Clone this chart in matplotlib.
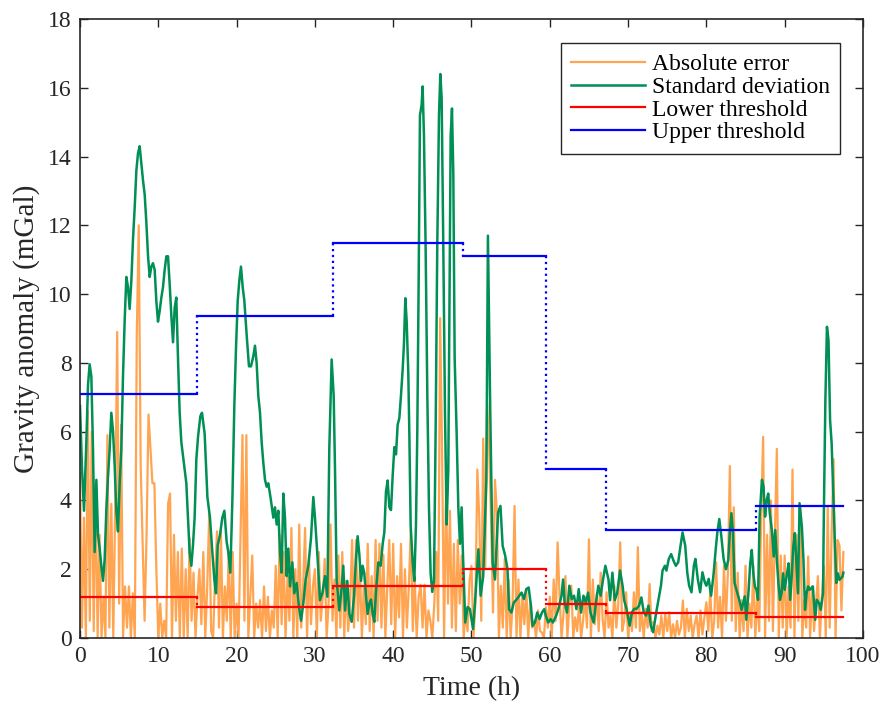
import matplotlib.pyplot as plt
import numpy as np

plt.rcParams['font.family'] = ['Liberation Serif', 'DejaVu Serif']

#---THRESHOLDS (piecewise constant)---#
seg_edges = [0, 15.0, 32.35, 48.9, 59.5, 67.2, 86.3, 97.5]
upper_thr = [7.1, 9.35, 11.5, 11.1, 4.9, 3.15, 3.85]
lower_thr = [1.2, 0.9, 1.5, 2.0, 1.0, 0.72, 0.6]

#---ABSOLUTE ERROR, sampled every 0.25 h from 0 to 97.5 h---#
abs_err = [
    4.8, 0.3, 3.5, 0.0,  6.6, 0.5, 6.0, 0.2,  4.5, 0.0, 3.0, 0.0,  1.2, 0.0, 5.9, 0.3,
    3.9, 0.0, 3.9, 8.9,  1.0, 6.2, 0.0, 1.5,  0.3, 1.5, 0.0, 1.3,  0.0, 8.8, 12.0, 5.0,
    2.8, 0.5, 3.0, 6.5,  5.5, 4.5, 4.5, 2.0,  0.0, 1.0, 0.0, 0.5,  0.0, 3.9, 4.2, 0.0,
    3.0, 0.5, 2.5, 0.0,  2.6, 0.0, 2.0, 0.0,  2.9, 0.5, 1.9, 0.0,  1.2, 2.0, 0.4, 2.5,
    0.0, 1.5, 3.6, 0.2,  0.0, 1.8, 3.1, 0.3,  3.1, 0.0, 1.5, 0.5,  2.5, 0.0, 2.5, 0.0,
    1.0, 0.0, 3.0, 5.9,  0.5, 5.9, 0.0, 1.2,  2.4, 0.0, 1.0, 0.3,  1.1, 0.0, 1.5, 0.2,
    1.2, 0.0, 0.8, 0.3,  2.1, 0.0, 3.0, 0.4,  2.5, 0.0, 1.8, 0.5,  3.2, 0.0, 2.0, 0.0,
    3.3, 0.3, 1.5, 3.2,  0.0, 2.3, 0.4, 1.5,  2.0, 0.0, 2.5, 0.5,  1.2, 2.3, 0.0, 1.0,
    3.3, 0.5, 1.7, 0.0,  2.4, 0.3, 2.5, 0.0,  1.66, 0.2, 1.0, 2.85,  0.3, 2.85, 0.5, 2.1,
    0.0, 1.5, 0.4, 2.74,  0.2, 1.8, 0.0, 2.85,  0.5, 2.74, 0.3, 2.42,  0.0, 1.5, 2.85, 0.4,
    2.74, 0.0, 1.8, 0.6,  2.74, 0.0, 2.0, 0.3,  1.5, 3.17, 0.2, 1.77,  0.0, 1.2, 1.55, 0.3,
    1.55, 0.0, 0.8, 0.5,  0.0, 1.0, 2.5, 0.5,  9.3, 5.34, 0.0, 4.4,  1.0, 3.7, 0.3, 2.74,
    0.2, 2.85, 1.0, 2.4,  0.0, 0.74, 0.2, 1.66,  2.1, 0.0, 1.0, 4.9,  3.45, 0.5, 5.8, 2.0,
    6.84, 5.6, 3.45, 0.74,  4.6, 3.65, 0.0, 1.52,  0.3, 2.3, 0.0, 1.7,  0.0, 1.0, 3.84, 0.0,
    1.7, 0.0, 1.2, 0.4,  1.42, 0.0, 1.03, 0.3,  0.5, 0.0, 0.8, 0.2,  0.16, 0.0, 0.9, 0.3,
    1.2, 0.0, 1.7, 0.5,  2.78, 1.23, 0.0, 0.7,  1.8, 0.0, 1.0, 1.52,  0.0, 0.6, 0.2, 1.03,
    0.0, 0.5, 1.2, 0.3,  2.87, 0.0, 1.7, 0.4,  1.3, 0.2, 1.9, 0.55,  0.0, 1.33, 0.3, 0.65,
    0.0, 1.52, 0.3, 1.0,  2.78, 0.2, 0.5, 1.33,  0.0, 0.75, 0.2, 1.33,  0.3, 2.64, 0.2, 0.75,
    0.0, 0.85, 0.3, 1.57,  0.2, 0.46, 0.0, 0.36,  0.1, 0.65, 0.0, 0.7,  0.2, 0.75, 0.0, 0.4,
    0.0, 0.5, 0.1, 0.3,  1.09, 0.0, 0.85, 0.2,  0.65, 0.0, 0.4, 0.65,  0.0, 0.8, 0.1, 0.6,
    1.04, 0.2, 1.38, 0.0,  0.5, 2.2, 0.3, 1.2,  0.0, 2.1, 0.5, 1.9,  5.0, 0.5, 3.8, 0.2,
    1.9, 0.0, 1.1, 0.2,  2.1, 0.0, 1.0, 0.3,  2.1, 0.0, 1.2, 0.2,  3.6, 5.85, 0.0, 3.0,
    0.5, 4.0, 0.2, 3.0,  5.5, 0.0, 2.4, 0.3,  2.4, 0.0, 1.5, 0.3,  4.9, 0.0, 3.0, 0.5,
    3.8, 0.0, 1.1, 0.3,  2.37, 0.0, 1.5, 0.2,  1.0, 1.8, 0.0, 1.2,  2.1, 0.0, 3.8, 0.3,
    3.05, 5.2, 0.0, 2.85,  2.7, 0.8, 2.5,
]
err_t = np.linspace(0, 97.5, len(abs_err))

#---STANDARD DEVIATION---#
std_t = [
    0.0, 0.26, 0.51, 0.81, 1.02, 1.23, 1.45, 1.66, 1.87, 2.09, 2.3, 2.51, 2.72, 2.94,
    3.15, 3.36, 3.58, 3.79, 4.0, 4.22, 4.43, 4.64, 4.85, 5.07, 5.28, 5.49, 5.71, 5.92,
    6.13, 6.34, 6.56, 6.77, 6.98, 7.2, 7.41, 7.62, 7.83, 8.05, 8.26, 8.47, 8.69, 8.9,
    9.11, 9.32, 9.54, 9.75, 9.96, 10.17, 10.39, 10.6, 10.81, 11.03, 11.24, 11.45, 11.66,
    11.88, 12.09, 12.3, 12.52, 12.73, 12.94, 13.15, 13.37, 13.58, 13.79, 14.0, 14.22,
    14.43, 14.64, 14.86, 15.07, 15.37, 15.58, 15.92, 16.27,
    16.6, 16.9, 17.16, 17.37, 17.59, 17.88, 18.18, 18.44, 18.73, 18.94, 19.2, 19.46,
    19.71, 19.92, 20.14, 20.35, 20.56, 20.78, 20.99, 21.29, 21.58, 21.84, 22.14, 22.35,
    22.56, 22.77, 22.99, 23.2, 23.41, 23.63, 23.84, 24.05, 24.39, 24.69, 24.9, 25.12,
    25.33, 25.54, 25.75, 25.97, 26.18, 26.39, 26.61, 26.82, 27.12, 27.37, 27.67, 27.97,
    28.23, 28.52, 28.82, 29.16, 29.5, 29.8, 30.01, 30.35, 30.65, 30.95, 31.29, 31.59,
    31.84, 32.14, 32.4,
    32.57, 32.78, 33.12, 33.42, 33.63, 33.85, 34.14, 34.4, 34.7, 35.0, 35.25, 35.46,
    35.68, 35.89, 36.1, 36.31, 36.53, 36.74, 36.95, 37.17, 37.38, 37.59, 37.8, 38.1,
    38.4, 38.66, 38.87, 39.08, 39.29, 39.51, 39.72, 39.93, 40.15, 40.36, 40.57, 40.79,
    41.0, 41.21, 41.38, 41.55, 41.72, 41.93, 42.06, 42.23, 42.49, 42.7, 42.91, 43.08,
    43.25, 43.42, 43.63, 43.76, 43.93, 44.14, 44.36, 44.57, 44.78, 44.99, 45.21, 45.42,
    45.63, 45.85, 46.02, 46.19, 46.4, 46.62, 46.83, 47.04, 47.17, 47.34, 47.51, 47.68,
    47.85, 48.1, 48.32, 48.53, 48.74, 48.87,
    49.2, 49.5, 49.8, 50.2, 50.5, 50.88, 51.17, 51.5, 51.9, 52.1, 52.4, 52.7, 53.0,
    53.4, 53.7, 53.98, 54.3, 54.6, 54.8, 55.1, 55.4, 55.8, 56.1, 56.4, 56.7, 57.0,
    57.3, 57.6, 57.8, 58.1, 58.4, 58.7, 59.0, 59.3, 59.5, 59.8, 60.1, 60.4, 60.8,
    61.1, 61.3, 61.5, 61.7, 61.9, 62.2, 62.5, 62.8, 63.1, 63.4, 63.7, 64.0, 64.3,
    64.6, 64.9, 65.2, 65.6, 65.9, 66.2, 66.5, 66.8, 67.1,
    67.5, 67.7, 68.0, 68.3, 68.6, 68.97, 69.3, 69.5, 69.8, 70.2, 70.5, 70.8, 71.1,
    71.4, 71.7, 72.0, 72.3, 72.6, 72.9, 73.2, 73.6, 73.9, 74.2, 74.4, 74.7, 74.9,
    75.2, 75.5, 75.8, 76.1, 76.4, 76.7, 76.96, 77.3, 77.56, 77.8, 78.1, 78.4, 78.6,
    78.9, 79.2, 79.5, 79.8, 80.0, 80.3, 80.6, 80.9, 81.2, 81.4, 81.65, 81.9, 82.2, 82.5,
    82.8, 82.99, 83.2, 83.4, 83.6, 83.96, 84.2, 84.5, 84.7, 84.9, 85.1, 85.4, 85.6,
    85.8, 86.0, 86.2, 86.4, 86.6, 86.8, 87.1, 87.3, 87.5, 87.7, 87.9, 88.1, 88.4,
    88.6, 88.8, 89.0, 89.2, 89.4, 89.6, 89.8, 90.0, 90.3, 90.5, 90.7, 90.9, 91.1,
    91.3, 91.5, 91.7, 91.9, 92.2, 92.4, 92.6, 92.8, 93.0, 93.2, 93.6, 93.9, 94.1,
    94.4, 94.6, 94.9, 95.0, 95.2, 95.4, 95.6, 95.8, 96.0, 96.2, 96.4, 96.6, 96.8,
    97.0, 97.4, 97.5,
]
std_dev = [
    6.75, 4.9, 3.7, 5.7, 7.35, 7.96, 7.6, 5.5, 2.5, 4.6, 3.0, 2.6, 2.1, 1.66,
    2.3, 3.7, 4.7, 5.5, 6.55, 6.0, 5.0, 3.7, 3.1, 4.5, 5.5, 7.6, 9.27, 10.5,
    10.2, 9.57, 10.4, 11.6, 12.5, 13.6, 14.1, 14.3, 13.8, 13.3, 12.9, 12.1, 11.1, 10.5,
    10.8, 10.9, 10.7, 9.8, 9.2, 9.5, 9.9, 10.2, 10.7, 11.1, 11.1, 10.3, 9.4,
    8.6, 9.6, 9.9, 8.1, 6.55, 5.7, 5.3, 4.9, 4.5, 3.5, 2.5, 2.1,
    2.7, 3.5, 5.2, 5.84, 6.45, 6.55, 5.94, 4.1,
    3.5, 2.5, 1.7, 1.3, 2.7, 3.0, 3.5, 3.7, 2.8, 2.5, 1.9, 4.0,
    6.75, 8.4, 9.8, 10.4, 10.8, 10.2, 9.8, 8.8, 7.9, 7.9, 8.2, 8.5,
    8.0, 7.05, 6.55, 5.7, 5.1, 4.6, 4.4, 4.5, 4.0, 3.5, 3.8, 3.3,
    3.7, 2.5, 1.9, 4.2, 3.5, 1.8, 2.6, 1.5, 2.2, 1.3, 1.6, 0.9,
    0.5, 1.0, 1.7, 2.1, 2.9, 4.1, 3.5, 2.3, 1.1, 1.3, 1.8, 1.2,
    5.5, 8.1, 7.05,
    4.9, 1.66, 0.8, 1.45, 2.1, 0.8, 1.66, 0.7, 0.47, 1.23, 2.3, 2.96,
    2.42, 1.66, 2.1, 1.88, 1.23, 0.7, 1.0, 1.12, 0.7, 0.47, 1.34, 2.2,
    2.1, 2.74, 3.07, 4.26, 4.58, 3.8, 3.72, 4.7, 5.55, 5.34, 6.2, 6.4,
    7.07, 7.8, 8.58, 9.88, 9.23, 7.7, 5.99, 3.28, 2.2, 1.66, 3.28, 6.0,
    10.3, 15.2, 15.5, 16.04, 14.6, 11.4, 7.07, 3.8, 1.88, 1.34, 1.66, 6.0,
    11.4, 15.2, 16.4, 15.7, 11.4, 6.5, 3.3, 4.9, 9.2, 14.6, 15.4, 13.5,
    8.15, 6.0, 3.8, 2.74, 3.8, 2.74,
    0.45, 0.9, 0.84, 0.26, 1.2, 2.58, 1.23, 1.8, 4.6, 11.7, 6.55, 2.2, 1.7,
    3.65, 3.84, 2.68, 2.4, 2.0, 0.84, 0.74, 1.03, 1.13, 1.23, 1.32, 1.13, 1.42,
    1.47, 0.93, 0.35, 0.45, 0.74, 0.55, 0.74, 0.84, 0.64, 0.45, 0.55, 0.45, 0.64,
    0.84, 1.03, 1.23, 1.7, 1.03, 0.74, 1.52, 1.13, 1.23, 0.84, 1.42, 0.74, 1.23,
    1.03, 1.32, 0.74, 0.45, 1.03, 1.52, 1.23, 1.7, 2.1,
    1.7, 1.1, 1.9, 1.1, 1.3, 1.96, 1.52, 1.1, 0.85, 0.36, 0.75, 0.85, 0.85,
    0.94, 1.18, 0.75, 0.65, 0.94, 0.36, 0.17, 0.75, 1.14, 1.52, 1.96, 2.1, 1.96,
    2.3, 2.44, 2.25, 2.1, 2.2, 2.68, 3.07, 2.68, 1.9, 1.52, 1.33, 2.1, 2.3,
    1.72, 1.33, 1.91, 1.62, 1.52, 1.72, 1.23, 1.81, 2.59, 3.07, 3.46, 2.98, 2.3, 2.0,
    2.27, 3.05, 3.63, 3.05, 1.6, 1.3, 1.11, 0.82, 1.01, 1.21, 0.53, 1.4, 2.17,
    2.56, 1.88, 1.5, 1.4, 1.11, 3.53, 4.6, 4.4, 3.53, 4.0, 4.2, 3.63, 3.05,
    2.37, 3.14, 2.27, 1.6, 1.11, 1.3, 1.88, 1.4, 1.88, 2.17, 1.11, 1.79, 2.66,
    3.05, 2.17, 1.3, 3.92, 3.24, 2.27, 0.82, 1.3, 1.5, 1.4, 1.5, 0.53, 1.11,
    1.01, 0.82, 1.3, 3.53, 6.92, 9.05, 8.66, 6.34, 5.66, 4.21, 2.85, 1.6, 1.88,
    1.69, 1.79, 1.9,
]

#---PLOT---#
fig = plt.figure(figsize=(8.84, 7.07), dpi=100)
ax = fig.add_axes([0.0905, 0.0976, 0.8857, 0.8755])

ax.plot(err_t, abs_err, color='#FFA552', lw=1.6, label='Absolute error')
ax.plot(std_t, std_dev, color='#008F55', lw=1.8, label='Standard deviation')

for i in range(len(upper_thr)):
    ax.plot([seg_edges[i], seg_edges[i + 1]], [lower_thr[i], lower_thr[i]],
            color='#FF0000', lw=1.6, label='Lower threshold' if i == 0 else None)
    ax.plot([seg_edges[i], seg_edges[i + 1]], [upper_thr[i], upper_thr[i]],
            color='#0000FF', lw=1.6, label='Upper threshold' if i == 0 else None)
    if i > 0:
        ax.plot([seg_edges[i]] * 2, [lower_thr[i - 1], lower_thr[i]],
                color='#FF0000', lw=1.6, ls=':')
        ax.plot([seg_edges[i]] * 2, [upper_thr[i - 1], upper_thr[i]],
                color='#0000FF', lw=1.6, ls=':')

ax.set_xlim(0, 100)
ax.set_ylim(0, 18)
ax.set_xticks(range(0, 101, 10))
ax.set_yticks(range(0, 19, 2))
ax.tick_params(direction='in', length=6, width=1.0, top=True, right=True,
               labelsize=17, colors='#262626', pad=6)
for s in ax.spines.values():
    s.set_linewidth(1.2)
    s.set_color('#262626')

ax.set_xlabel('Time (h)', fontsize=20, color='#262626', labelpad=6)
ax.set_ylabel('Gravity anomaly (mGal)', fontsize=21, color='#262626', labelpad=6)

leg = ax.legend(loc='upper right', bbox_to_anchor=(0.971, 0.961), borderaxespad=0,
                fontsize=17, fancybox=False, framealpha=1, edgecolor='#262626',
                handlelength=3.1, handletextpad=0.3, labelspacing=0.05,
                borderpad=0.45)
leg.get_frame().set_linewidth(1.0)

fig.savefig('out.png', dpi=100)
